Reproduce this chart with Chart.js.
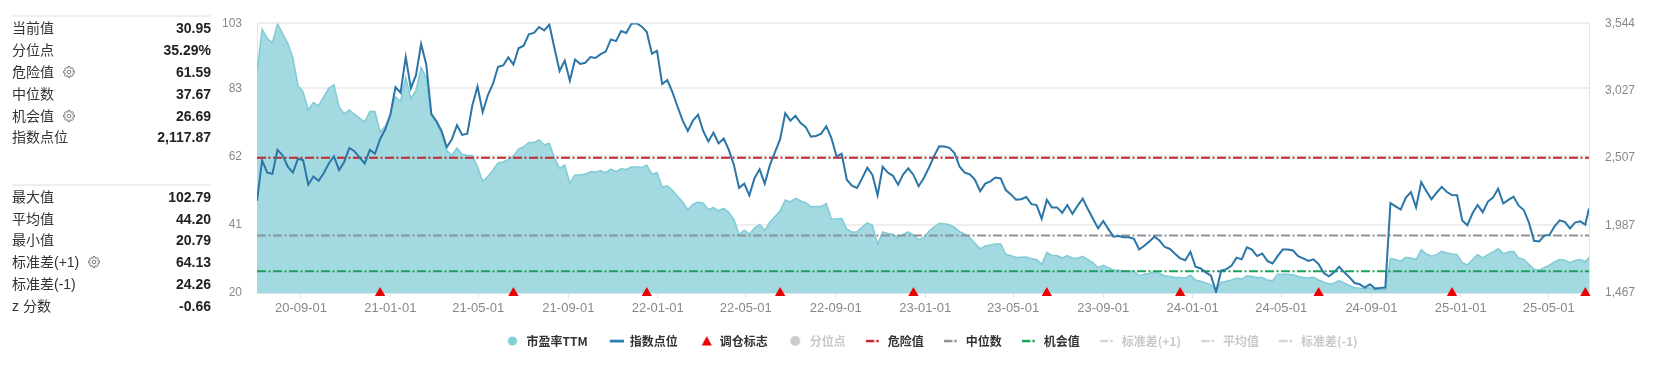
<!DOCTYPE html>
<html>
<head>
<meta charset="utf-8">
<script src="https://cdn.jsdelivr.net/npm/chart.js@4.4.1/dist/chart.umd.min.js"></script>
<style>
html, body { margin: 0; padding: 0; background: #fff; }
body { width: 1662px; height: 368px; position: relative; overflow: hidden; font-family: "Liberation Sans", "Noto Sans CJK SC", sans-serif; }
#stats { position: absolute; left: 12px; top: 0; width: 199px; height: 368px; z-index: 2; }
.sep { position: absolute; left: 0; width: 199px; height: 2px; background: #eeeeee; }
.row { position: absolute; left: 0; width: 199px; height: 22px; line-height: 22px; font-size: 14px; color: #333; }
.row .v { position: absolute; right: 0; top: 0; font-weight: bold; color: #222; }
.gear { display: inline-block; vertical-align: -1px; margin-left: 9px; }
#wrap { position: absolute; left: 200px; top: 0; width: 1462px; height: 368px; }
</style>
</head>
<body>
<div id="stats"></div>
<div id="wrap"><canvas id="chart"></canvas></div>
<script>
// weekly samples from 2020-07-03, last point is the latest day
const startDate = "2020-07-03";
const lastDate = "2025-06-25";

const peTTM = [
  88.3, 101.1, 98.3, 97.0, 102.79, 99.8, 96.8, 92.3, 83.8, 81.8, 76.3, 78.6, 77.6, 80.3, 83.0, 84.1, 77.3, 75.1, 76.3, 75.0,
  73.8, 72.6, 75.8, 75.8, 69.6, 71.3, 74.8, 80.3, 79.0, 86.3, 79.8, 82.3, 89.3, 86.3, 74.8, 72.3, 68.8, 63.8, 62.3, 64.6,
  62.6, 62.4, 62.3,
  58.8, 54.3, 55.8, 57.8, 60.0, 60.3, 61.1, 62.1, 64.3, 65.0, 66.3, 66.3, 67.1, 65.6, 66.0, 61.6, 58.3, 59.3, 53.8, 56.3,
  56.3, 56.5, 57.3, 57.2, 57.6, 57.0, 58.1, 57.3, 58.2, 58.0, 58.8, 58.8, 58.6, 59.3, 56.6, 57.0, 52.6, 53.0, 51.6, 49.8,
  48.0, 45.6, 47.3,
  48.0, 47.6, 45.6, 46.3, 45.3, 46.0, 44.8, 42.6, 38.0, 39.3, 38.1, 40.0, 41.1, 39.3, 41.8, 43.5, 45.3, 48.6, 48.0, 49.1,
  48.3, 47.8, 46.5, 46.6, 46.6, 47.5, 42.8, 42.8, 43.0, 39.6, 38.8, 38.8, 40.3, 41.6, 40.8, 35.0, 38.8, 38.3, 38.0, 37.0,
  38.0, 38.8, 37.8,
  36.4, 37.1, 39.0, 40.3, 41.4, 41.3, 41.0, 40.2, 38.9, 38.1, 37.0, 35.3, 33.6, 34.5, 34.8, 35.1, 35.1, 31.9, 31.5, 30.9,
  31.0, 31.1, 30.5, 30.3, 28.8, 32.5, 31.5, 31.5, 30.8, 31.5, 30.8, 30.7, 31.3, 30.3, 29.3, 27.8, 28.5, 27.8, 27.1, 27.0,
  26.8, 26.8, 26.8,
  25.3, 25.8, 26.1, 26.6, 26.0, 25.3, 25.1, 24.8, 24.8, 24.6, 25.5, 24.0, 23.6, 23.1, 22.5, 20.79, 23.3, 23.6, 24.0, 24.5,
  24.3, 25.3, 25.1, 24.8, 24.8, 24.0, 23.8, 25.8, 25.8, 25.8, 25.6, 25.1, 24.8, 24.6, 24.8, 24.0, 23.3, 22.8, 23.0, 23.8,
  23.0, 22.3, 21.6,
  21.5, 21.3, 21.6, 21.0, 21.0, 21.0, 30.6, 30.3, 29.8, 31.0, 30.8, 30.3, 33.3, 32.0, 31.3, 31.8, 32.8, 32.3, 32.0, 31.8,
  29.3, 28.6, 30.3, 31.8, 30.8, 31.8, 32.6, 33.6, 32.1, 32.6, 32.8, 30.8, 30.3, 28.8, 27.3, 27.0, 27.8, 28.6, 29.6, 30.3,
  30.1, 29.3, 30.0, 30.3, 29.6, 30.95
];

const indexPts = [
  2176, 2489, 2394, 2384, 2569, 2526, 2439, 2394, 2502, 2489, 2301, 2364, 2331, 2389, 2464, 2519, 2414, 2476, 2584, 2559,
  2509, 2464, 2569, 2539, 2651, 2726, 2839, 3051, 3009, 3284, 3044, 3144, 3384, 3226, 2844, 2789, 2714, 2589, 2651, 2759,
  2684, 2694, 2914,
  3056, 2859, 2989, 3076, 3209, 3219, 3281, 3226, 3351, 3371, 3459, 3469, 3514, 3489, 3534, 3351, 3176, 3256, 3101, 3264,
  3231, 3239, 3284, 3276, 3306, 3326, 3419, 3406, 3484, 3469, 3539, 3544, 3519, 3476, 3309, 3331, 3076, 3106, 3014, 2901,
  2794, 2714, 2794,
  2839, 2714, 2634, 2701, 2619, 2656, 2569, 2451, 2276, 2309, 2219, 2351, 2419, 2309, 2451, 2551, 2651, 2851, 2794, 2831,
  2776, 2744, 2671, 2676, 2694, 2751, 2659, 2519, 2539, 2339, 2294, 2276, 2351, 2431, 2376, 2219, 2439, 2394, 2369, 2301,
  2381, 2426, 2376,
  2289, 2351, 2431, 2519, 2596, 2594, 2584, 2544, 2439, 2394, 2381, 2339, 2251, 2309, 2326, 2356, 2349, 2259, 2226, 2186,
  2189, 2206, 2151, 2144, 2039, 2184, 2126, 2126, 2084, 2144, 2076, 2139, 2194, 2114, 2039, 1964, 2021, 1959, 1901, 1906,
  1896, 1896, 1884,
  1802, 1831, 1864, 1901, 1869, 1821, 1806, 1769, 1734, 1719, 1784, 1669, 1656, 1626, 1601, 1476, 1639, 1651, 1676, 1739,
  1726, 1819, 1801, 1751, 1771, 1714, 1694, 1751, 1801, 1801, 1794, 1751, 1734, 1714, 1726, 1689, 1621, 1596, 1626, 1669,
  1626, 1589, 1544,
  1534, 1509, 1534, 1501, 1506, 1509, 2159, 2134, 2109, 2201, 2244, 2126, 2321, 2251, 2189, 2239, 2284, 2244, 2221, 2219,
  2026, 1989, 2081, 2144, 2089, 2171, 2201, 2271, 2156, 2184, 2209, 2139, 2106, 2009, 1869, 1864, 1909, 1914, 1981, 2026,
  2014, 1964, 2009, 2019, 1994, 2117.87
];

const rebalanceDates = ["2020-12-18", "2021-06-18", "2021-12-17", "2022-06-17", "2022-12-16",
  "2023-06-16", "2023-12-15", "2024-06-21", "2024-12-20", "2025-06-20"];

const xTickLabels = ["20-09-01", "21-01-01", "21-05-01", "21-09-01", "22-01-01", "22-05-01", "22-09-01", "23-01-01",
  "23-05-01", "23-09-01", "24-01-01", "24-05-01", "24-09-01", "25-01-01", "25-05-01"];
const leftTicks = [20, 41, 62, 83, 103];
const rightTicks = [1467, 1987, 2507, 3027, 3544];

const dangerVal = 61.59;
const medianVal = 37.67;
const chanceVal = 26.69;
const sdPlusVal = 64.13;
const meanVal = 44.20;
const sdMinusVal = 24.26;

const statsTop = [["当前值", "30.95"], ["分位点", "35.29%"], ["危险值", "61.59", true], ["中位数", "37.67"], ["机会值", "26.69", true], ["指数点位", "2,117.87"]];
const statsBottom = [["最大值", "102.79"], ["平均值", "44.20"], ["最小值", "20.79"], ["标准差(+1)", "64.13", true], ["标准差(-1)", "24.26"], ["z 分数", "-0.66"]];

// left stats panel
function gearSvg() {
  let d = "";
  for (let t = 0; t < 8; t++) {
    const b = t * Math.PI / 4;
    const pts = [[b - 0.19, 11], [b + 0.19, 11], [b + 0.36, 8.2], [b + 0.6, 8.2]];
    pts.forEach(([a, r], k) => {
      d += (t === 0 && k === 0 ? "M" : "L") + (12 + r * Math.cos(a)).toFixed(2) + " " + (12 + r * Math.sin(a)).toFixed(2) + " ";
    });
  }
  d += "Z";
  return '<svg class="gear" width="12" height="12" viewBox="0 0 24 24"><path d="' + d +
    '" fill="none" stroke="#666" stroke-width="1.7" stroke-linejoin="round"/><circle cx="12" cy="12" r="3.6" fill="none" stroke="#666" stroke-width="1.7"/></svg>';
}
const stats = document.getElementById("stats");
function addGroup(rows, sepY, firstY) {
  stats.insertAdjacentHTML("beforeend", '<div class="sep" style="top:' + sepY + 'px"></div>');
  rows.forEach((r, i) => {
    stats.insertAdjacentHTML("beforeend", '<div class="row" style="top:' + (firstY + i * 21.8) + 'px">' + r[0] +
      (r[2] ? gearSvg() : "") + '<span class="v">' + r[1] + "</span></div>");
  });
}
addGroup(statsTop, 15, 17.3);
addGroup(statsBottom, 184, 185.7);

// chart
const day = s => (Date.parse(s) - Date.parse(startDate)) / 864e5;
const xMax = day(lastDate);
const xs = peTTM.map((_, i) => (i < peTTM.length - 1 ? i * 7 : xMax));
const xTickDays = xTickLabels.map(l => day("20" + l));
const hline = v => [{ x: 0, y: v }, { x: xMax, y: v }];

function icon(draw) {
  const c = document.createElement("canvas");
  c.width = 16; c.height = 12;
  draw(c.getContext("2d"));
  return c;
}
const dotIcon = (col, r, cx) => icon(g => { g.fillStyle = col; g.beginPath(); g.arc(cx, 6, r, 0, Math.PI * 2); g.fill(); });
const lineIcon = col => icon(g => { g.fillStyle = col; g.fillRect(2, 4.7, 14, 2.8); });
const triIcon = col => icon(g => { g.fillStyle = col; g.beginPath(); g.moveTo(9, 1); g.lineTo(14, 10.5); g.lineTo(4, 10.5); g.closePath(); g.fill(); });
const dashIcon = col => icon(g => { g.fillStyle = col; g.fillRect(0, 4.8, 8.5, 2.5); g.fillRect(10.5, 4.8, 2.5, 2.5); });

const C_PE_FILL = "#a3d9e1", C_PE_EDGE = "#80cbd6", C_IDX = "#2b76a7", C_RED = "#c8242a", C_GRAY = "#8d9199", C_GREEN = "#1ba35a";
const C_OFF = "#c8c8c8", C_TEXT = "#333333";

const legendItems = [
  { text: "市盈率TTM", pointStyle: dotIcon("#7fcfd9", 4.6, 8), fontColor: C_TEXT },
  { text: "指数点位", pointStyle: lineIcon("#2f7db3"), fontColor: C_TEXT },
  { text: "调仓标志", pointStyle: triIcon("#ee0000"), fontColor: C_TEXT },
  { text: "分位点", pointStyle: dotIcon("#cccccc", 5, 7.5), fontColor: C_OFF },
  { text: "危险值", pointStyle: dashIcon(C_RED), fontColor: C_TEXT },
  { text: "中位数", pointStyle: dashIcon(C_GRAY), fontColor: C_TEXT },
  { text: "机会值", pointStyle: dashIcon(C_GREEN), fontColor: C_TEXT },
  { text: "标准差(+1)", pointStyle: dashIcon("#d6d6d6"), fontColor: C_OFF },
  { text: "平均值", pointStyle: dashIcon("#d6d6d6"), fontColor: C_OFF },
  { text: "标准差(-1)", pointStyle: dashIcon("#d6d6d6"), fontColor: C_OFF }
].map((it, i) => Object.assign({ hidden: false, lineWidth: 0, strokeStyle: "rgba(0,0,0,0)", fillStyle: "rgba(0,0,0,0)", datasetIndex: i }, it));

const refLine = (label, v, color, hidden) => ({
  label, data: hline(v), yAxisID: "y", borderColor: color, borderWidth: 2, borderDash: [9, 2.5, 2, 2.5],
  pointRadius: 0, fill: false, order: 2, hidden: !!hidden
});

const axisFont = { family: "'Liberation Sans', 'DejaVu Sans', sans-serif", size: 12 };

new Chart(document.getElementById("chart"), {
  type: "line",
  data: {
    datasets: [
      {
        label: "调仓标志", data: rebalanceDates.map(d => ({ x: day(d), y: leftTicks[0] })), yAxisID: "y",
        showLine: false, pointStyle: "triangle", pointRadius: 6, pointBackgroundColor: "#ee0000", pointBorderWidth: 0,
        clip: false, order: 0
      },
      {
        label: "指数点位", data: indexPts.map((v, i) => ({ x: xs[i], y: v })), yAxisID: "y1",
        borderColor: C_IDX, borderWidth: 2, pointRadius: 0, fill: false, order: 1
      },
      refLine("危险值", dangerVal, C_RED),
      refLine("中位数", medianVal, C_GRAY),
      refLine("机会值", chanceVal, C_GREEN),
      refLine("标准差(+1)", sdPlusVal, "#cccccc", true),
      refLine("平均值", meanVal, "#cccccc", true),
      refLine("标准差(-1)", sdMinusVal, "#cccccc", true),
      { label: "分位点", data: [], yAxisID: "y", hidden: true },
      {
        label: "市盈率TTM", data: peTTM.map((v, i) => ({ x: xs[i], y: v })), yAxisID: "y",
        borderColor: C_PE_EDGE, borderWidth: 1.5, backgroundColor: C_PE_FILL, fill: "start", pointRadius: 0, order: 5
      }
    ]
  },
  options: {
    responsive: true,
    maintainAspectRatio: false,
    animation: false,
    layout: { padding: { top: 16, bottom: 11, left: 0, right: 0 } },
    plugins: {
      tooltip: { enabled: false },
      legend: {
        position: "bottom",
        onClick: null,
        labels: {
          usePointStyle: true,
          pointStyleWidth: 16,
          padding: 20,
          color: C_TEXT,
          font: { family: "'Noto Sans CJK SC', sans-serif", size: 12, weight: "bold" },
          generateLabels: () => legendItems
        }
      }
    },
    scales: {
      x: {
        type: "linear", min: 0, max: xMax,
        grid: { drawOnChartArea: false, drawTicks: true, tickLength: 5, color: "#dfe5ee" },
        border: { color: "#dfe5ee" },
        ticks: {
          autoSkip: false, maxRotation: 0, padding: 3, color: "#888",
          font: { family: "'Liberation Sans', 'DejaVu Sans', sans-serif", size: 13 },
          callback: v => xTickLabels[xTickDays.indexOf(v)]
        },
        afterBuildTicks: s => { s.ticks = xTickDays.map(v => ({ value: v })); },
        afterFit: s => { s.height = 22; }
      },
      y: {
        position: "left", min: leftTicks[0], max: leftTicks[leftTicks.length - 1],
        grid: { color: "#eeeeee", lineWidth: 2, drawTicks: false },
        border: { color: "#dfe5ee" },
        ticks: { padding: 15, color: "#888", font: axisFont, callback: v => String(v) },
        afterBuildTicks: s => { s.ticks = leftTicks.map(v => ({ value: v })); },
        afterFit: s => { s.width = 57; }
      },
      y1: {
        position: "right", min: rightTicks[0], max: rightTicks[rightTicks.length - 1],
        grid: { drawOnChartArea: false, drawTicks: false },
        border: { color: "#dfe5ee" },
        ticks: { padding: 16, color: "#888", font: axisFont, callback: v => v.toLocaleString("en-US") },
        afterBuildTicks: s => { s.ticks = rightTicks.map(v => ({ value: v })); },
        afterFit: s => { s.width = 73; }
      }
    }
  }
});
</script>
</body>
</html>
